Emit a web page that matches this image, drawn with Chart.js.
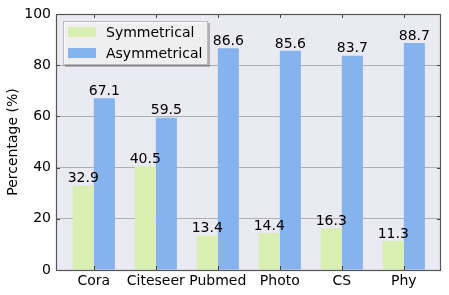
<!DOCTYPE html>
<html>
<head>
<meta charset="utf-8">
<script src="https://cdn.jsdelivr.net/npm/chart.js@4/dist/chart.umd.min.js"></script>
<style>
  html, body { margin: 0; padding: 0; background: #fff; }
  #wrap { width: 449px; height: 295px; position: relative; }
</style>
</head>
<body>
<div id="wrap"><canvas id="myChart" width="449" height="295"></canvas></div>
<script>
// datasets and their values (percent)
var datasetNames = ["Cora", "Citeseer", "Pubmed", "Photo", "CS", "Phy"];
var symmetrical = [32.9, 40.5, 13.4, 14.4, 16.3, 11.3];
var asymmetrical = [67.1, 59.5, 86.6, 85.6, 83.7, 88.7];
var yTicks = [0, 20, 40, 60, 80, 100];

var FONT = "'DejaVu Sans', sans-serif";
var GREEN = "#d9efb1";
var BLUE = "#86b3ed";

function toPoints(vals) {
    var out = [];
    for (var i = 0; i < vals.length; i++) out.push({ x: i, y: vals[i] });
    return out;
}

// plot background, frame and inward ticks (matplotlib look)
var frame = {
    id: "frame",
    beforeDraw: function (chart) {
        var a = chart.chartArea, ctx = chart.ctx;
        ctx.save();
        ctx.fillStyle = "#eaeaf2";
        ctx.fillRect(a.left, a.top, a.right - a.left, a.bottom - a.top);
        ctx.restore();
    },
    afterDatasetsDraw: function (chart) {
        var a = chart.chartArea, ctx = chart.ctx;
        var xs = chart.scales.x, ys = chart.scales.y;
        ctx.save();
        ctx.strokeStyle = "#444";
        ctx.lineWidth = 1;
        ctx.beginPath();
        for (var i = 0; i < datasetNames.length; i++) {
            var px = Math.round(xs.getPixelForValue(i)) + 0.5;
            ctx.moveTo(px, a.bottom); ctx.lineTo(px, a.bottom - 4);
            ctx.moveTo(px, a.top); ctx.lineTo(px, a.top + 4);
        }
        for (var j = 0; j < yTicks.length; j++) {
            var py = Math.round(ys.getPixelForValue(yTicks[j])) + 0.5;
            ctx.moveTo(a.left, py); ctx.lineTo(a.left + 4, py);
            ctx.moveTo(a.right, py); ctx.lineTo(a.right - 4, py);
        }
        ctx.stroke();
        ctx.strokeStyle = "#555";
        ctx.lineWidth = 1.2;
        ctx.strokeRect(a.left + 0.5, a.top + 0.5, a.right - a.left - 1, a.bottom - a.top);

        // value labels above bars
        ctx.fillStyle = "#000";
        ctx.font = "14px " + FONT;
        ctx.textAlign = "center";
        ctx.textBaseline = "bottom";
        chart.data.datasets.forEach(function (ds, di) {
            chart.getDatasetMeta(di).data.forEach(function (bar, k) {
                ctx.fillText(ds.data[k].y.toFixed(1), bar.x, bar.y);
            });
        });

        // legend box in upper left
        var lx = a.left + 7, ly = a.top + 7, lw = 145, lh = 44;
        ctx.fillStyle = "rgba(0,0,0,0.25)";
        ctx.fillRect(lx + 2, ly + 2, lw, lh);
        ctx.fillStyle = "rgba(255,255,255,0.8)";
        ctx.fillRect(lx, ly, lw, lh);
        ctx.strokeStyle = "#bbb";
        ctx.lineWidth = 1;
        ctx.strokeRect(lx + 0.5, ly + 0.5, lw - 1, lh - 1);
        ctx.textAlign = "left";
        ctx.textBaseline = "middle";
        chart.data.datasets.forEach(function (ds, di) {
            var cy = ly + 11 + di * 21;
            ctx.fillStyle = ds.backgroundColor;
            ctx.fillRect(lx + 5, cy - 5, 28, 10);
            ctx.fillStyle = "#000";
            ctx.fillText(ds.label, lx + 43, cy + 1);
        });
        ctx.restore();
    }
};

var ctx = document.getElementById("myChart");
var myChart = new Chart(ctx, {
    type: "bar",
    data: {
        datasets: [
            { label: "Symmetrical", data: toPoints(symmetrical), backgroundColor: GREEN },
            { label: "Asymmetrical", data: toPoints(asymmetrical), backgroundColor: BLUE }
        ]
    },
    options: {
        responsive: false,
        animation: false,
        categoryPercentage: 0.68,
        barPercentage: 1.0,
        layout: { padding: { top: 14, right: 8, left: 0, bottom: 0 } },
        plugins: { legend: { display: false }, tooltip: { enabled: false } },
        scales: {
            x: {
                type: "linear",
                offset: false,
                min: -0.61,
                max: 5.6,
                afterBuildTicks: function (scale) {
                    scale.ticks = datasetNames.map(function (n, i) { return { value: i }; });
                },
                afterFit: function (scale) { scale.height = 25; },
                grid: { display: false, drawTicks: false },
                border: { display: false },
                ticks: {
                    color: "#000",
                    font: { family: FONT, size: 14 },
                    padding: 3,
                    maxRotation: 0,
                    autoSkip: false,
                    callback: function (v) { return datasetNames[v]; }
                }
            },
            y: {
                min: 0,
                max: 100,
                afterBuildTicks: function (scale) {
                    scale.ticks = yTicks.map(function (v) { return { value: v }; });
                },
                afterFit: function (scale) { scale.width = 56; },
                grid: { color: "#b0b0b0", lineWidth: 1, drawTicks: false },
                border: { display: false },
                ticks: {
                    color: "#000",
                    font: { family: FONT, size: 14 },
                    padding: 5
                },
                title: {
                    display: true,
                    text: "Percentage (%)",
                    color: "#000",
                    font: { family: FONT, size: 14 },
                    padding: { top: 5, bottom: 0 }
                }
            }
        }
    },
    plugins: [frame]
});
</script>
</body>
</html>
